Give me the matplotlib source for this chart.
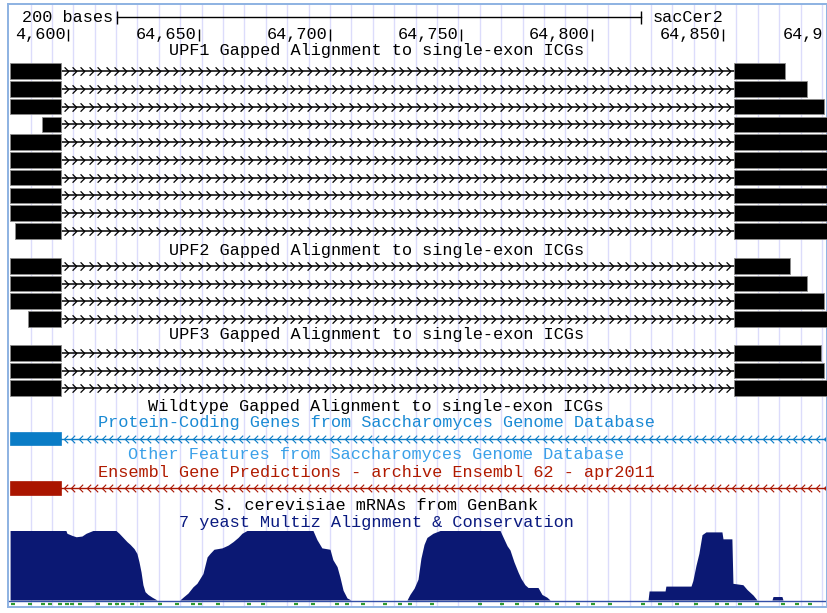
import numpy as np
import matplotlib.pyplot as plt
from matplotlib.path import Path

# genome positions (sacCer2)
exon1_end = 64597.3
exon2_start = 64854.2
view_end = 64889.6

upf1_left = [64577.9, 64577.9, 64577.9, 64590.1, 64577.9,
             64577.9, 64577.9, 64577.9, 64577.9, 64579.8]
upf1_right = [64873.7, 64882.1, 64888.5, 64889.6, 64889.6,
              64889.6, 64889.6, 64889.6, 64889.6, 64889.6]
upf2_left = [64577.9, 64577.9, 64577.9, 64584.7]
upf2_right = [64875.6, 64882.1, 64888.5, 64889.6]
upf3_left = [64577.9, 64577.9, 64577.9]
upf3_right = [64887.4, 64888.5, 64889.6]

gene_start = 64577.9  # SGD / Ensembl gene, minus strand

# ruler: labels as they show in the window (ends are cut by the view)
ruler_pos = [64600, 64650, 64700, 64750, 64800, 64850]
ruler_lab = ['4,600', '64,650', '64,700', '64,750', '64,800', '64,850']
ruler_tail = '64,9'
scale_start = 64618.7
scale_len = 200

cons_pos = [64577.9, 64599.2, 64599.6, 64601.5, 64603.1, 64605.3, 64606.9, 64609.5,
            64618.3, 64619.5, 64621.0, 64622.5, 64623.7, 64625.2, 64626.3, 64627.1,
            64627.9, 64628.6, 64629.4, 64630.5, 64632.1, 64634.0, 64642.7, 64643.9,
            64645.8, 64647.7, 64649.2, 64651.5, 64653.1, 64654.2, 64655.7, 64658.8,
            64661.1, 64663.0, 64664.9, 64666.4, 64668.3, 64693.5, 64695.0, 64696.9,
            64700.0, 64701.1, 64702.7, 64703.8, 64705.0, 64706.5, 64708.0, 64729.4,
            64730.5, 64732.1, 64733.6, 64734.7, 64735.9, 64737.0, 64739.3, 64742.0,
            64764.9, 64766.0, 64767.6, 64768.7, 64770.2, 64771.8, 64772.9, 64774.4,
            64775.6, 64779.4, 64780.9, 64782.8, 64784.0, 64821.4, 64821.8, 64827.9,
            64828.2, 64837.8, 64838.5, 64839.7, 64840.8, 64842.0, 64843.5, 64849.6,
            64850.0, 64853.4, 64853.8, 64857.6, 64859.2, 64861.5, 64863.0, 64868.7,
            64869.1, 64872.5, 64872.9, 64889.6]
cons_val = [1.0, 1.0, 0.96, 0.93, 0.91, 0.92, 0.96, 1.0,
            1.0, 0.96, 0.90, 0.84, 0.80, 0.74, 0.67, 0.55,
            0.40, 0.22, 0.12, 0.08, 0.04, 0.0, 0.0, 0.04,
            0.10, 0.19, 0.24, 0.38, 0.62, 0.67, 0.73, 0.75,
            0.79, 0.84, 0.90, 0.96, 1.0, 1.0, 0.87, 0.75,
            0.73, 0.58, 0.48, 0.33, 0.14, 0.03, 0.0, 0.0,
            0.08, 0.17, 0.30, 0.60, 0.80, 0.90, 0.96, 1.0,
            1.0, 0.91, 0.78, 0.72, 0.55, 0.40, 0.31, 0.22,
            0.18, 0.18, 0.08, 0.04, 0.0, 0.0, 0.13, 0.13,
            0.20, 0.20, 0.28, 0.50, 0.67, 0.94, 0.98, 0.98,
            0.88, 0.88, 0.24, 0.22, 0.15, 0.07, 0.0, 0.0,
            0.05, 0.05, 0.0, 0.0]

green_pos = [64579.0, 64585.5, 64590.5, 64593.1, 64596.9, 64599.6, 64601.5, 64604.6,
             64611.5, 64616.0, 64618.7, 64621.0, 64624.4, 64628.2, 64635.1, 64641.6,
             64647.7, 64650.4, 64657.3, 64669.1, 64674.4, 64687.0, 64693.5, 64702.7,
             64706.5, 64712.6, 64721.0, 64726.7, 64730.5, 64738.9, 64757.3, 64765.6,
             64771.4, 64779.0, 64786.6, 64794.7, 64800.4, 64806.9, 64819.5, 64826.0,
             64832.4, 64839.7, 64847.7, 64851.5, 64856.5, 64863.0, 64872.9, 64878.2,
             64883.2]

titles = ['UPF1 Gapped Alignment to single-exon ICGs',
          'UPF2 Gapped Alignment to single-exon ICGs',
          'UPF3 Gapped Alignment to single-exon ICGs',
          'Wildtype Gapped Alignment to single-exon ICGs',
          'Protein-Coding Genes from Saccharomyces Genome Database',
          'Other Features from Saccharomyces Genome Database',
          'Ensembl Gene Predictions - archive Ensembl 62 - apr2011',
          'S. cerevisiae mRNAs from GenBank',
          '7 yeast Multiz Alignment & Conservation']
title_y = [51, 250, 335, 406, 422, 455, 472, 505, 522]
title_col = ['black', 'black', 'black', 'black', '#1a8ad4', '#3aa0e8',
             '#b01a00', 'black', '#0a1a80']

FONT = ['Liberation Mono', 'DejaVu Sans Mono']
FS = 12.2

fig = plt.figure(figsize=(8.28, 6.13), dpi=100)
# axes: x in bases, y in screen rows (px from top)
ax = fig.add_axes([8 / 828, (613 - 607) / 613, 819 / 828, 603 / 613])
ax.set_xlim(64577.1, 64889.7)
ax.set_ylim(607, 4)
ax.set_xticks([])
ax.set_yticks([])
for s in ax.spines.values():
    s.set_color('#8db2e2')
    s.set_linewidth(1.4)

# light blue guide lines
for gx in np.arange(64585.7, 64890, 8.165):
    ax.axvline(gx, color='#dcdcfb', lw=1, zorder=0)

fwd = Path([(-0.35, 0.5), (0.15, 0.0), (-0.35, -0.5)], [Path.MOVETO, Path.LINETO, Path.LINETO])
rev = Path([(0.35, 0.5), (-0.15, 0.0), (0.35, -0.5)], [Path.MOVETO, Path.LINETO, Path.LINETO])


def alignment(lefts, rights, y0, step):
    for i, (l, r) in enumerate(zip(lefts, rights)):
        y = y0 + i * step
        ax.barh(y, exon1_end - l, left=l, height=15.5, color='black',
                edgecolor='#8a8a8a', lw=0.6, zorder=3)
        ax.barh(y, r - exon2_start, left=exon2_start, height=15.5, color='black',
                edgecolor='#8a8a8a', lw=0.6, zorder=3)
        ax.plot([exon1_end, exon2_start], [y, y], color='black', lw=1.1, zorder=2)
        cx = np.arange(exon1_end + 2.2, exon2_start - 1, 3.2)
        ax.plot(cx, np.full(len(cx), y), ls='none', marker=fwd, ms=6,
                mfc='none', mec='black', mew=0.9, zorder=2)


alignment(upf1_left, upf1_right, 71, 17.75)
alignment(upf2_left, upf2_right, 266, 17.6)
alignment(upf3_left, upf3_right, 353, 17.6)


def gene(y, col):
    ax.barh(y, exon1_end - gene_start, left=gene_start, height=13.5, color=col,
            edgecolor=col, lw=0.5, zorder=3)
    ax.plot([exon1_end, view_end], [y, y], color=col, lw=1.0, zorder=2)
    cx = np.arange(exon1_end + 1.5, view_end, 2.9)
    ax.plot(cx, np.full(len(cx), y), ls='none', marker=rev, ms=5.5,
            mfc='none', mec=col, mew=0.8, zorder=2)


gene(438.5, '#0a7cc6')
gene(488, '#aa1500')

# conservation wiggle
cv = np.array(cons_val)
ax.fill_between(cons_pos, 600, 600 - cv * 69.5, color='#0b1873', lw=0, zorder=2)
ax.plot([64577.1, 64889.7], [600.5, 600.5], color='#3350a8', lw=1.0, zorder=2)
ax.plot(green_pos, np.full(len(green_pos), 604), ls='none', marker='_', ms=3.5,
        mew=1.6, color='#2f9a2f', zorder=2)

# track titles
for t, y, c in zip(titles, title_y, title_col):
    ax.text(64717.6, y, t, ha='center', va='center', color=c,
            family=FONT, fontsize=FS, zorder=4)

# scale bar
ax.plot([scale_start, scale_start + scale_len], [17, 17], color='black', lw=1.0)
ax.vlines([scale_start, scale_start + scale_len], 11, 24, color='black', lw=1.0)
ax.text(scale_start - 1.5, 17.5, '%d bases' % scale_len, ha='right', va='center',
        family=FONT, fontsize=FS)
ax.text(scale_start + scale_len + 4.5, 17.5, 'sacCer2', ha='left', va='center',
        family=FONT, fontsize=FS)

# base ruler
ax.vlines(ruler_pos, 29, 41, color='black', lw=1.0)
for p, lab in zip(ruler_pos, ruler_lab):
    ax.text(p - 0.9, 34, lab, ha='right', va='center', family=FONT, fontsize=FS)
ax.text(64873.0, 34, ruler_tail, ha='left', va='center', family=FONT, fontsize=FS)

fig.savefig('out.png', dpi=100, facecolor='white')
